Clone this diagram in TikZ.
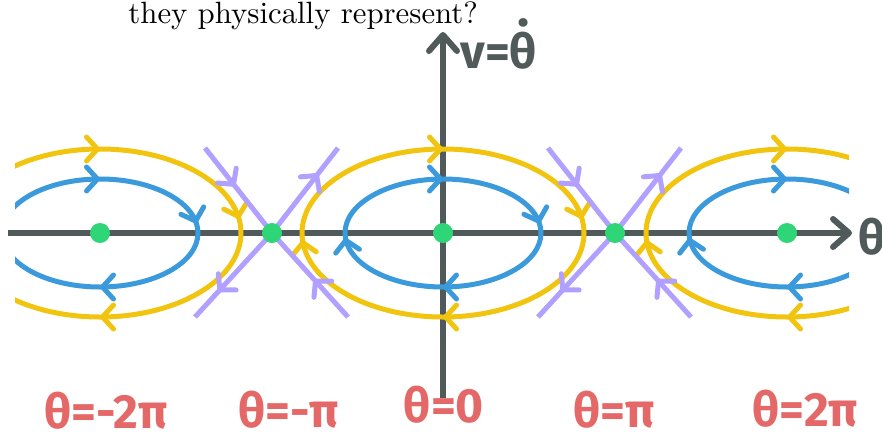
\documentclass[tikz,border=0pt]{standalone}
\usepackage{fontspec}
\newfontfamily\handfont{Fira Sans}
\newfontfamily\notefont{lmroman10-regular.otf}
\usetikzlibrary{arrows.meta, positioning, backgrounds, decorations.markings}

\definecolor{axisgray}{RGB}{80,90,90}
\definecolor{orbitblue}{RGB}{58,154,219}
\definecolor{orbityellow}{RGB}{241,196,15}
\definecolor{seppurple}{RGB}{177,160,255}
\definecolor{eqgreen}{RGB}{46,214,120}
\definecolor{labelred}{RGB}{228,104,104}

\tikzset{flowtip/.tip={Straight Barb[length=5.5pt, width=12pt, round]}}

\begin{document}
\begin{tikzpicture}[x=0.5pt, y=-0.5pt, line cap=round, line join=round,
  every node/.style={inner sep=0pt},
  eq/.style={circle, fill=eqgreen, minimum size=10pt},
  axis/.style={draw=axisgray, line width=3pt, -{Straight Barb[length=8pt, width=14pt, round]}},
  orbit/.style={line width=2.5pt, postaction={decorate, decoration={markings,
      mark=at position 0.25 with {\arrow{flowtip}},
      mark=at position 0.75 with {\arrow{flowtip}}}}},
  leftflow/.style={postaction={decorate, decoration={markings,
      mark=at position 0.49 with {\arrow{flowtip}}}}},
  rightflow/.style={postaction={decorate, decoration={markings,
      mark=at position 0.98 with {\arrow{flowtip}}}}},
  bothflow/.style={leftflow, rightflow},
  sep/.style={seppurple, line width=2.5pt, postaction={decorate}, decoration={markings,
      mark=at position #1 with {\arrow{flowtip}}}},
  hand/.style={font=\handfont\bfseries\fontsize{24}{28}\selectfont}]

  \useasboundingbox (0,0) rectangle (882,434);

  % Nodes
  \node[eq] (Cm) at (100,233) {};
  \node[eq] (Sm) at (272,233) {};
  \node[eq] (C0) at (443,233) {};
  \node[eq] (Sp) at (615,233) {};
  \node[eq] (Cp) at (787,233) {};

  \coordinate (Vbot) at (443,398);
  \coordinate (Vtop) at (443,32);
  \coordinate (Hleft) at (8,233);
  \coordinate (Hright) at (852,233);

  \foreach \s in {Sm,Sp} {
    \coordinate (\s-tl) at ([shift={(-67,-85)}]\s.center);
    \coordinate (\s-tr) at ([shift={(66,-85)}]\s.center);
    \coordinate (\s-bl) at ([shift={(-77,84)}]\s.center);
    \coordinate (\s-br) at ([shift={(76,84)}]\s.center);
  }

  % Labels
  \node[anchor=base west, font=\notefont\fontsize{15.4}{19}\selectfont] (Q) at (128,23) {they physically represent?};
  \node[hand, text=axisgray, anchor=west] (Vlbl) at (460,44) {v=θ̇};
  \node[hand, text=axisgray] (Hlbl) at (872,237) {θ};
  \node[hand, text=labelred] (Lm2) at (106,411) {θ=-2π};
  \node[hand, text=labelred] (Lm1) at (289,410) {θ=-π};
  \node[hand, text=labelred] (L0) at (444,405) {θ=0};
  \node[hand, text=labelred] (Lp1) at (614,410) {θ=π};
  \node[hand, text=labelred] (Lp2) at (805,409) {θ=2π};

  % Axes, orbits and separatrices behind the dots
  \begin{scope}[on background layer]
    \draw[axis] (Vbot) -- (Vtop);
    \draw[axis] (Hleft) -- (Hright);
    \begin{scope}
      \clip (15,0) rectangle (849,434);
      \foreach \c/\sides in {Cm/rightflow, C0/bothflow, Cp/leftflow} {
        \draw[orbit, \sides, orbityellow] (\c.center) ellipse [x radius=141, y radius=84];
        \draw[orbit, \sides, orbitblue] (\c.center) ellipse [x radius=98, y radius=54];
      }
    \end{scope}
    \foreach \s in {Sm,Sp} {
      \draw[sep=0.45] (\s-tl) -- (\s.center);
      \draw[sep=0.45] (\s-br) -- (\s.center);
      \draw[sep=0.7] (\s.center) -- (\s-tr);
      \draw[sep=0.7] (\s.center) -- (\s-bl);
    }
  \end{scope}

\end{tikzpicture}
\end{document}
